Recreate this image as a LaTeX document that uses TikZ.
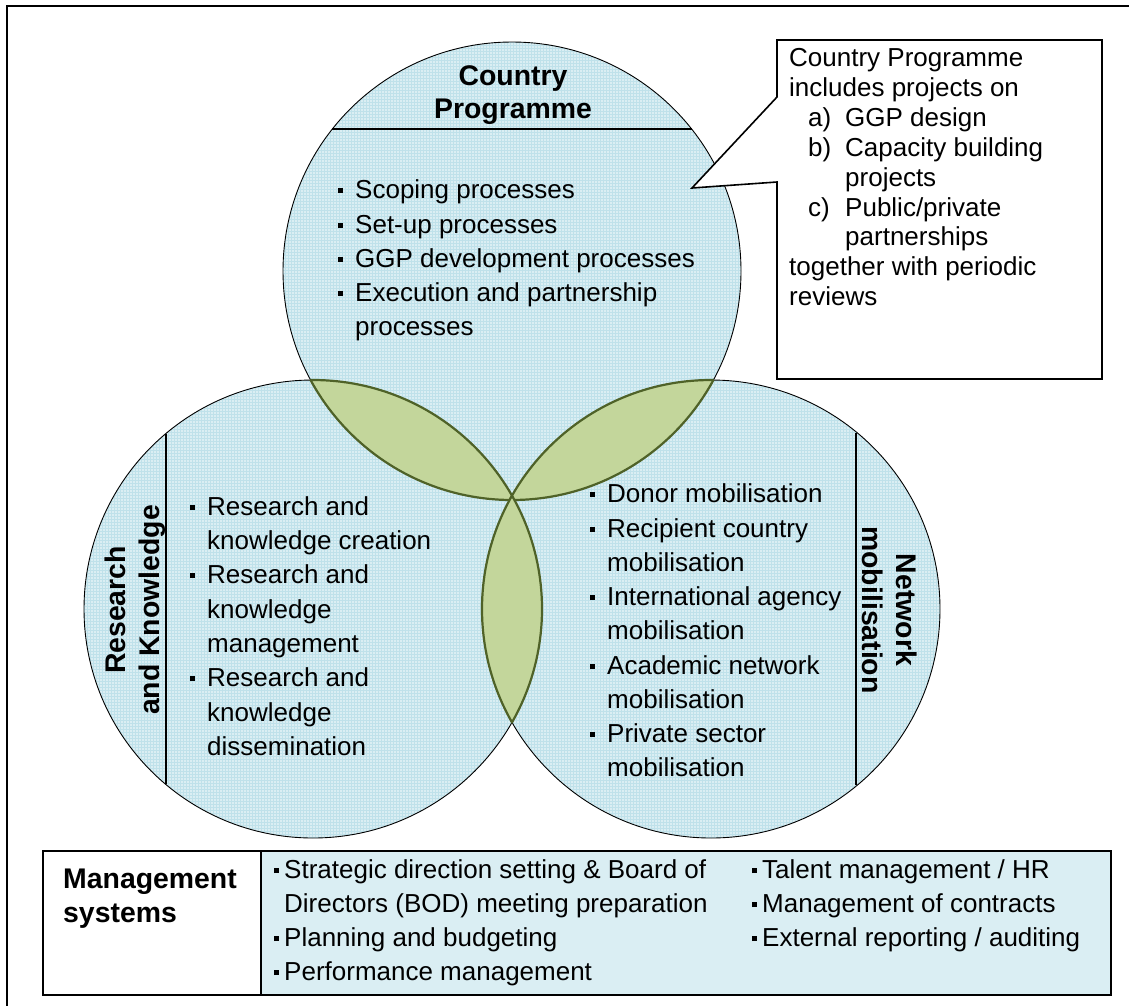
\documentclass[tikz,border=0pt]{standalone}
\usepackage{fontspec}
\setmainfont{Liberation Sans}
\definecolor{cfill}{HTML}{DAEEF3}
\definecolor{cgrid}{HTML}{BFE1EA}
\definecolor{lensfill}{HTML}{C3D69B}
\definecolor{lensline}{HTML}{4F6228}
\newcommand\bl{\makebox[17pt][l]{\rule[5pt]{5pt}{5pt}}}
\newcommand\blb{\makebox[10pt][l]{\rule[5pt]{5pt}{5pt}}}
\begin{document}
\begin{tikzpicture}[x=1pt,y=-1pt,
  txt/.style={anchor=base west,inner sep=0pt,font=\fontsize{26}{31}\selectfont},
  hdr/.style={inner sep=0pt,font=\bfseries\fontsize{28.4}{34}\selectfont},
  rim/.style={draw=black,line width=0.9pt},
  lensedge/.style={draw=lensline,line width=2.2pt},
  rule/.style={draw=black,line width=1.5pt}]
\useasboundingbox (0,0) rectangle (1129,1005);
\clip (0,0) rectangle (1129,1005);
% outer frame
\draw[line width=1.6pt] (7,6) rectangle (1140,1020);
% circle centres
\coordinate (T) at (512,271);
\coordinate (L) at (313,609);
\coordinate (Rc) at (711,609);
% filled circles with fine grid texture
\foreach \c in {T,L,Rc}{
  \begin{scope}
    \clip (\c) circle[radius=229];
    \fill[cfill] (\c) circle[radius=229];
    \draw[cgrid,line width=0.4pt] ([shift={(-232,-232)}]\c) grid[step=3pt] ([shift={(232,232)}]\c);
  \end{scope}
}
\foreach \c in {T,L,Rc}{\draw[rim] (\c) circle[radius=229];}
% lenses
\foreach \a/\b in {T/L,T/Rc,L/Rc}{
  \begin{scope}
    \clip (\a) circle[radius=229];
    \fill[lensfill] (\b) circle[radius=229];
    \draw[lensedge] (\b) circle[radius=229];
  \end{scope}
  \begin{scope}
    \clip (\b) circle[radius=229];
    \draw[lensedge] (\a) circle[radius=229];
  \end{scope}
}
% rules inside circles
\draw[rule] (332,129) -- (692,129);
\draw[rule] (166,434) -- (166,784);
\draw[rule] (856,433) -- (856,785);
% Country Programme
\node[hdr,anchor=base] (cpt1) at (513,85) {Country};
\node[hdr,anchor=base] (cpt2) at (513,118) {Programme};
\node[txt] (cp1) at (338,198) {\bl Scoping processes};
\node[txt] (cp2) at (338,233) {\bl Set-up processes};
\node[txt] (cp3) at (338,267) {\bl GGP development processes};
\node[txt] (cp4) at (338,301) {\bl Execution and partnership};
\node[txt] (cp5) at (355,335) {processes};
% Research and Knowledge
\node[hdr,rotate=90,anchor=base] (rk1) at (125,610) {Research};
\node[hdr,rotate=90,anchor=base] (rk2) at (159,610) {and Knowledge};
\node[txt] (r1) at (190,515) {\bl Research and};
\node[txt] (r2) at (207,549) {knowledge creation};
\node[txt] (r3) at (190,583) {\bl Research and};
\node[txt] (r4) at (207,618) {knowledge};
\node[txt] (r5) at (207,652) {management};
\node[txt] (r6) at (190,686) {\bl Research and};
\node[txt] (r7) at (207,721) {knowledge};
\node[txt] (r8) at (207,755) {dissemination};
% Network mobilisation
\node[hdr,rotate=-90,anchor=base] (nm1) at (896,610) {Network};
\node[hdr,rotate=-90,anchor=base] (nm2) at (862,610) {mobilisation};
\node[txt] (n1) at (590,502) {\bl Donor mobilisation};
\node[txt] (n2) at (590,537) {\bl Recipient country};
\node[txt] (n3) at (607,571) {mobilisation};
\node[txt] (n4) at (590,605) {\bl International agency};
\node[txt] (n5) at (607,639) {mobilisation};
\node[txt] (n6) at (590,674) {\bl Academic network};
\node[txt] (n7) at (607,708) {mobilisation};
\node[txt] (n8) at (590,742) {\bl Private sector};
\node[txt] (n9) at (607,776) {mobilisation};
% callout
\coordinate (tip) at (692,188);
\draw[fill=white,line width=1.6pt,line join=miter] (777,40) -- (1102,40) -- (1102,379) -- (777,379) -- (777,182) -- (tip) -- (777,97) -- cycle;
\node[txt] (c1) at (789,66) {Country Programme};
\node[txt] (c2) at (789,96) {includes projects on};
\node[txt] (c3a) at (808,126) {a)};
\node[txt] (c3) at (845,126) {GGP design};
\node[txt] (c4a) at (808,156) {b)};
\node[txt] (c4) at (845,156) {Capacity building};
\node[txt] (c5) at (845,186) {projects};
\node[txt] (c6a) at (808,216) {c)};
\node[txt] (c6) at (845,216) {Public/private};
\node[txt] (c7) at (845,245) {partnerships};
\node[txt] (c8) at (789,275) {together with periodic};
\node[txt] (c9) at (789,305) {reviews};
% management systems box
\fill[cfill] (261,851) rectangle (1111,995);
\draw[line width=1.5pt] (43,851) rectangle (1111,995);
\draw[line width=1.2pt] (261,851) -- (261,995);
\node[hdr,anchor=base west] (ms1) at (63,888) {Management};
\node[hdr,anchor=base west] (ms2) at (63,922) {systems};
\node[txt] (m1) at (274,878) {\blb Strategic direction setting \& Board of};
\node[txt] (m2) at (284,912) {Directors (BOD) meeting preparation};
\node[txt] (m3) at (274,946) {\blb Planning and budgeting};
\node[txt] (m4) at (274,980) {\blb Performance management};
\node[txt] (m5) at (752,878) {\blb Talent management / HR};
\node[txt] (m6) at (752,912) {\blb Management of contracts};
\node[txt] (m7) at (752,946) {\blb External reporting / auditing};
\end{tikzpicture}
\end{document}
